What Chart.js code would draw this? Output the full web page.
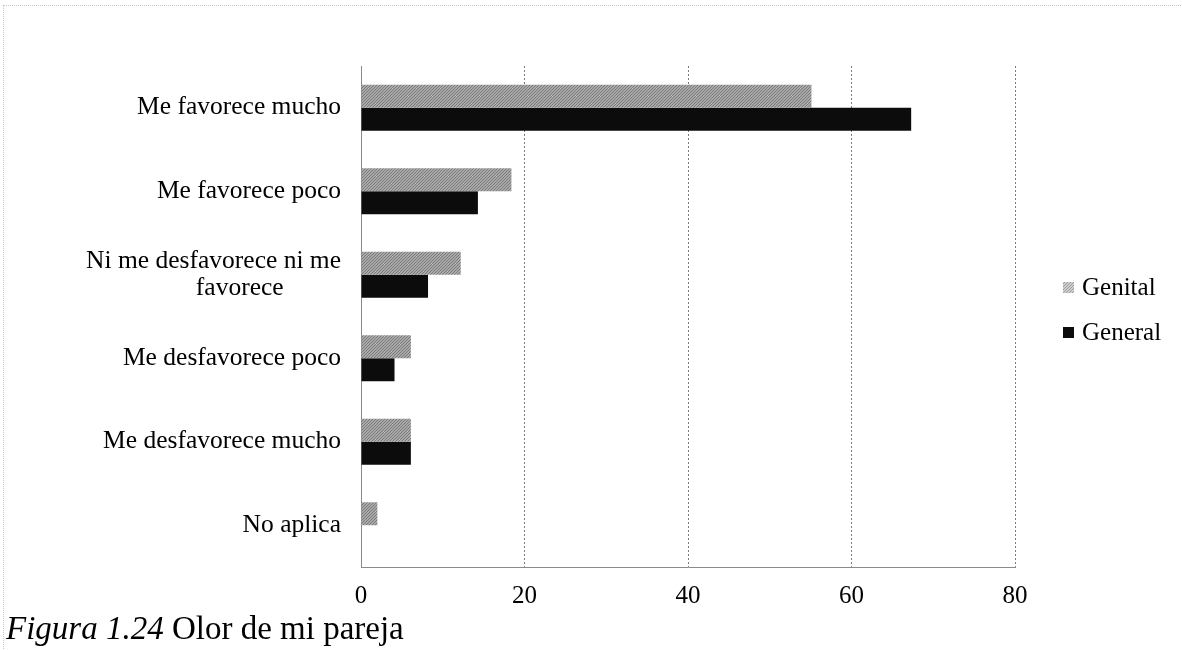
<!DOCTYPE html>
<html>
<head>
<meta charset="utf-8">
<script src="https://cdn.jsdelivr.net/npm/chart.js@4.4.1/dist/chart.umd.min.js"></script>
<style>
  html, body { margin: 0; padding: 0; background: #fff; width: 1182px; height: 650px; overflow: hidden; }
  #frame { position: absolute; left: 3px; top: 5px; width: 1179px; height: 645px; border-top: 1px dotted #c8c8c8; border-left: 1px dotted #c8c8c8; }
  #box { position: absolute; left: 0; top: 0; width: 1182px; height: 650px; }
  #caption { position: absolute; left: 6px; top: 612px; font-family: 'Liberation Serif', 'Times New Roman', serif; font-size: 33px; line-height: 33px; color: #000; white-space: nowrap; }
</style>
</head>
<body>
<div id="frame"></div>
<div id="box"><canvas id="c"></canvas></div>
<div id="caption"><i>Figura 1.24</i> Olor de mi pareja</div>
<script>
const categories = [
  'Me favorece mucho',
  'Me favorece poco',
  ['Ni me desfavorece ni me', 'favorece\u00a0\u00a0\u00a0\u00a0\u00a0\u00a0\u00a0\u00a0\u00a0'],
  'Me desfavorece poco',
  'Me desfavorece mucho',
  'No aplica'
];
const seriesNames = ['Genital', 'General'];
const genitalValues = [55.1, 18.4, 12.2, 6.1, 6.1, 2.0];
const generalValues = [67.3, 14.3, 8.2, 4.1, 6.1, 0];
const xTicks = [0, 20, 40, 60, 80];

const FONT = "'Liberation Serif', 'Times New Roman', serif";

function makePattern(light, dark) {
  const t = document.createElement('canvas');
  t.width = 3; t.height = 3;
  const g = t.getContext('2d');
  g.fillStyle = light; g.fillRect(0, 0, 3, 3);
  g.fillStyle = dark;
  for (let i = 0; i < 3; i++) g.fillRect(i, 2 - i, 1, 1);
  return g.createPattern(t, 'repeat');
}
const genitalFill = makePattern('#a9a9a9', '#7a7a7a');
const genitalLegendFill = makePattern('#cdcdcd', '#a0a0a0');

const legendPlugin = {
  id: 'sideLegend',
  afterDraw(chart) {
    const ctx = chart.ctx;
    ctx.save();
    ctx.font = '25px ' + FONT;
    ctx.textBaseline = 'middle';
    ctx.textAlign = 'left';
    chart.data.datasets.forEach((ds, i) => {
      const cy = 287 + i * 45;
      ctx.fillStyle = i === 0 ? genitalLegendFill : ds.backgroundColor;
      ctx.fillRect(1063, cy - 5, 11, 11);
      ctx.fillStyle = '#000';
      ctx.fillText(ds.label, 1082, cy + 1);
    });
    ctx.restore();
  }
};

new Chart(document.getElementById('c'), {
  type: 'bar',
  data: {
    labels: categories,
    datasets: [
      { label: seriesNames[0], data: genitalValues, backgroundColor: genitalFill, borderWidth: 0 },
      { label: seriesNames[1], data: generalValues, backgroundColor: '#0c0c0c', borderWidth: 0 }
    ]
  },
  options: {
    indexAxis: 'y',
    responsive: true,
    maintainAspectRatio: false,
    animation: false,
    datasets: { bar: { categoryPercentage: 0.55, barPercentage: 1.0 } },
    layout: { padding: { top: 66, right: 167, bottom: 0, left: 0 } },
    plugins: { legend: { display: false }, tooltip: { enabled: false } },
    scales: {
      x: {
        min: xTicks[0], max: xTicks[xTicks.length - 1],
        afterBuildTicks(scale) { scale.ticks = xTicks.map(v => ({ value: v })); },
        afterFit(scale) { scale.height = 83; },
        grid: { display: true, drawTicks: false, color: '#7a7a7a', lineWidth: 1 },
        border: { display: true, color: '#8a8a8a', width: 1, dash: [2, 2] },
        ticks: { padding: 14, color: '#000', font: { family: FONT, size: 25 } }
      },
      y: {
        afterFit(scale) { scale.width = 361; },
        grid: { display: false, drawTicks: false },
        border: { display: true, color: '#8a8a8a', width: 1 },
        ticks: { padding: 20, color: '#000', font: { family: FONT, size: 25.5, lineHeight: 1.05 } }
      }
    }
  },
  plugins: [legendPlugin]
});
</script>
</body>
</html>
